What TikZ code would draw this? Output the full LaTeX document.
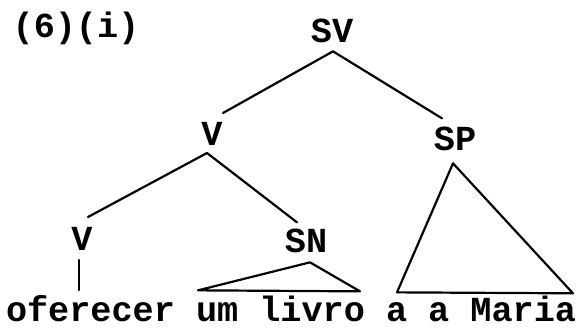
\documentclass[tikz,border=0pt]{standalone}
\usepackage{fontspec}
\setmonofont{Liberation Mono}
\begin{document}
\begin{tikzpicture}[x=1pt,y=1pt,
  lab/.style={inner sep=0pt,outer sep=0pt,anchor=base,font=\fontsize{35.2}{40}\selectfont\ttfamily\bfseries},
  word/.style={inner sep=0pt,outer sep=0pt,anchor=base west,font=\fontsize{35.2}{40}\selectfont\ttfamily\bfseries},
  edge/.style={line width=2.2pt,line cap=round,line join=round}]
\useasboundingbox (0,0) rectangle (577,327);
\node[lab] (ex) at (76,289) {(6)(i)};
\node[lab] (SV) at (332,284) {SV};
\node[lab] (V1) at (212,182) {V};
\node[lab] (SP) at (455,177) {SP};
\node[lab] (V2) at (82,77) {V};
\node[lab] (SN) at (306,75) {SN};
\node[word] (w1) at (6,6) {oferecer};
\node[word] (w2) at (196,6) {um livro};
\node[word] (w3) at (386,6) {a a Maria};
% branches
\draw[edge] ([shift={(11,32)}]V1.south) -- ([shift={(1,-8)}]SV.south) -- ([shift={(-13,32)}]SP.south);
\draw[edge] ([shift={(6,33)}]V2.south) -- ([shift={(-5,-8)}]V1.south) -- ([shift={(-9,30)}]SN.south);
\draw[edge] ([shift={(-3,-10)}]V2.south) -- ([shift={(-3,-40)}]V2.south);
\draw[edge] ([shift={(4,-10)}]SN.south) -- ([shift={(-108,-38)}]SN.south) -- ([shift={(54,-39)}]SN.south) -- cycle;
\draw[edge] ([shift={(-2,-13)}]SP.south) -- ([shift={(-58,-142)}]SP.south) -- ([shift={(118,-143)}]SP.south) -- cycle;
\end{tikzpicture}
\end{document}
